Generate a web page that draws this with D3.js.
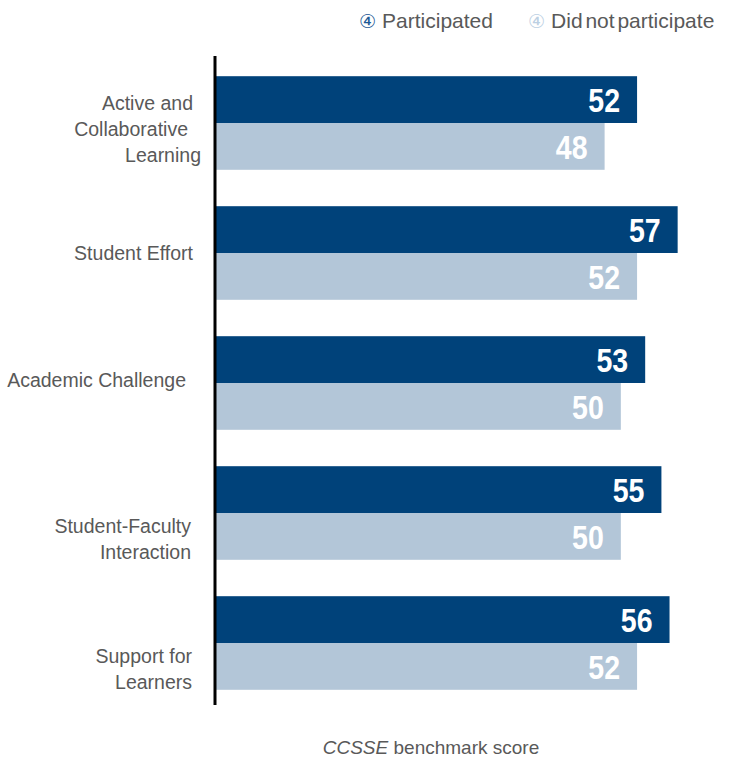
<!DOCTYPE html>
<html>
<head>
<meta charset="utf-8">
<script src="https://cdn.jsdelivr.net/npm/d3@7"></script>
<style>
  html, body { margin: 0; padding: 0; background: #fff; }
  svg { display: block; }
</style>
</head>
<body>
<svg id="chart" width="733" height="761"></svg>
<script>
const categories = [
  ["Active and", "Collaborative", "Learning"],
  ["Student Effort"],
  ["Academic Challenge"],
  ["Student-Faculty", "Interaction"],
  ["Support for", "Learners"]
];
const categoryKeys = ["Active and Collaborative Learning", "Student Effort", "Academic Challenge", "Student-Faculty Interaction", "Support for Learners"];
const participated = [52, 57, 53, 55, 56];
const didNotParticipate = [48, 52, 50, 50, 52];
const seriesNames = ["Participated", "Did not participate"];
const xTitleItalic = "CCSSE";
const xTitleRest = " benchmark score";

// styling: label line nudges (as in the original layout)
const labelShiftY = [6, 0, -3, 26, 26];
const labelLineDx = [[1, -4, 9], [1], [-6], [-1, -1], [0, 0]];

const colors = ["#00427a", "#b3c6d8"];
const legendGlyphColors = ["#1d5a96", "#bcd0e3"];
const svg = d3.select("#chart");

const x = d3.scaleLinear().domain([0, 60]).range([215, 702]);
const y = d3.scaleBand().domain(categoryKeys).range([58, 708]).paddingInner(0.28).paddingOuter(0.14);
const sub = d3.scaleBand().domain(seriesNames).range([0, y.bandwidth()]);

const rows = categoryKeys.map((k, i) => ({key: k, lines: categories[i], vals: [participated[i], didNotParticipate[i]]}));

const g = svg.append("g");
const narrow = 0.84;
rows.forEach((r, i) => {
  r.vals.forEach((v, j) => {
    const yy = y(r.key) + sub(seriesNames[j]);
    g.append("rect")
      .attr("x", x(0) + 1)
      .attr("y", yy)
      .attr("width", x(v) - x(0) - 1)
      .attr("height", sub.bandwidth())
      .attr("fill", colors[j]);
    const tx = x(v) - 17, ty = yy + sub.bandwidth() / 2 + 12.5;
    g.append("text")
      .attr("transform", `translate(${tx},${ty}) scale(${narrow},1)`)
      .attr("text-anchor", "end")
      .attr("fill", "#fff")
      .attr("font-family", "'Liberation Sans', Arial, sans-serif")
      .attr("font-weight", "bold")
      .attr("font-size", 34)
      .text(v);
  });
  const cy = y(r.key) + y.bandwidth() / 2;
  const lh = 26;
  const n = r.lines.length;
  r.lines.forEach((ln, li) => {
    g.append("text")
      .attr("x", 192 + labelLineDx[i][li])
      .attr("y", cy + (li - (n - 1) / 2) * lh + 7 + labelShiftY[i])
      .attr("text-anchor", "end")
      .attr("fill", "#595959")
      .attr("font-family", "'Liberation Sans', Arial, sans-serif")
      .attr("font-size", 19.5)
      .text(ln);
  });
});

// axis line
svg.append("line")
  .attr("x1", x(0)).attr("x2", x(0))
  .attr("y1", 56).attr("y2", 705)
  .attr("stroke", "#000").attr("stroke-width", 3);

// legend
const legendX = [359, 528];
seriesNames.forEach((s, i) => {
  const t = svg.append("text")
    .attr("x", legendX[i]).attr("y", 28)
    .attr("font-family", "'Liberation Sans', Arial, sans-serif")
    .attr("font-size", 21)
    .attr("fill", "#595959");
  t.append("tspan").attr("fill", legendGlyphColors[i]).attr("font-size", 19).attr("font-family", "'DejaVu Sans', sans-serif").text("\u2463");
  t.append("tspan").attr("dx", 6).attr("word-spacing", i === 1 ? -3 : 0).text(s);
});

// x title
const xt = svg.append("text")
  .attr("x", 431).attr("y", 754)
  .attr("text-anchor", "middle")
  .attr("font-family", "'Liberation Sans', Arial, sans-serif")
  .attr("font-size", 19)
  .attr("fill", "#595959");
xt.append("tspan").attr("font-style", "italic").text(xTitleItalic);
xt.append("tspan").text(xTitleRest);
</script>
</body>
</html>
